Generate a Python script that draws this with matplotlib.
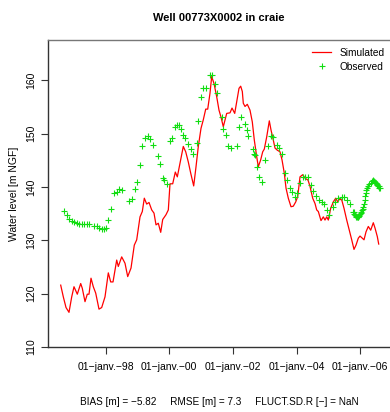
import matplotlib
matplotlib.use("Agg")
import matplotlib.pyplot as plt

plt.rcParams['font.family'] = ['Liberation Sans', 'DejaVu Sans']

# simulated heads (decimal year, m NGF)
sim_t = [1996.585, 1996.667, 1996.752, 1996.846, 1996.931, 1997.003, 1997.107, 1997.214, 1997.264,
         1997.349, 1997.421, 1997.475, 1997.538, 1997.610, 1997.686, 1997.789, 1997.874, 1997.978,
         1998.082, 1998.157, 1998.230, 1998.346, 1998.396, 1998.503, 1998.607, 1998.692, 1998.796,
         1998.899, 1998.975, 1999.079, 1999.151, 1999.214, 1999.289, 1999.362, 1999.447, 1999.519,
         1999.582, 1999.654, 1999.730, 1999.792, 1999.896, 1999.969, 2000.022, 2000.107, 2000.189,
         2000.252, 2000.336, 2000.440, 2000.516, 2000.597, 2000.673, 2000.767, 2000.840, 2000.912,
         2000.997, 2001.069, 2001.145, 2001.208, 2001.280, 2001.333, 2001.406, 2001.491, 2001.563,
         2001.626, 2001.698, 2001.805, 2001.909, 2001.972, 2002.057, 2002.138, 2002.192, 2002.245,
         2002.296, 2002.327, 2002.381, 2002.453, 2002.538, 2002.610, 2002.673, 2002.748, 2002.799,
         2002.874, 2002.937, 2002.987, 2003.063, 2003.145, 2003.198, 2003.252, 2003.324, 2003.396,
         2003.481, 2003.544, 2003.616, 2003.670, 2003.742, 2003.827, 2003.899, 2003.975, 2004.038,
         2004.110, 2004.195, 2004.277, 2004.362, 2004.425, 2004.509, 2004.582, 2004.635, 2004.686,
         2004.770, 2004.843, 2004.896, 2004.950, 2005.000, 2005.075, 2005.157, 2005.233, 2005.296,
         2005.346, 2005.421, 2005.494, 2005.579, 2005.660, 2005.736, 2005.808, 2005.871, 2005.943,
         2005.997, 2006.069, 2006.123, 2006.186, 2006.258, 2006.333, 2006.415, 2006.469, 2006.541,
         2006.585]
sim_v = [121.6, 119.4, 117.4, 116.5, 119.4, 121.3, 119.9, 121.9, 121.0,
         118.5, 119.9, 119.9, 122.9, 121.3, 120.1, 117.1, 117.4, 119.4,
         123.9, 122.2, 122.2, 126.3, 125.1, 126.9, 125.7, 123.2, 124.8,
         129.1, 130.1, 134.4, 135.4, 137.9, 136.8, 137.1, 135.7, 135.1,
         132.9, 133.2, 131.5, 133.9, 134.8, 135.7, 140.6, 140.6, 142.8,
         141.9, 144.4, 147.6, 146.6, 144.7, 142.6, 140.2, 143.8, 147.6,
         151.0, 152.6, 154.6, 154.6, 157.6, 160.7, 159.4, 156.9, 154.4,
         153.1, 151.3, 153.8, 153.9, 154.8, 153.8, 156.6, 158.5, 158.9,
         157.9, 155.7, 155.1, 155.5, 154.4, 152.2, 148.8, 145.7, 143.8,
         145.1, 146.6, 147.1, 149.4, 152.4, 150.7, 149.3, 147.3, 146.9,
         146.6, 145.1, 142.6, 139.8, 137.9, 136.3, 136.4, 137.2, 138.2,
         141.9, 142.3, 141.6, 141.3, 140.1, 137.9, 136.9, 135.7, 135.4,
         133.7, 134.4, 133.8, 134.4, 133.8, 136.0, 137.2, 137.9, 137.2,
         137.7, 137.6, 136.0, 133.8, 131.9, 130.1, 128.3, 129.1, 130.4,
         130.8, 130.4, 130.1, 131.6, 132.6, 131.9, 133.3, 132.3, 130.7,
         129.3]

# observed heads
obs_t = [1996.689, 1996.774, 1996.855, 1996.931, 1997.013, 1997.088, 1997.170, 1997.245, 1997.327,
         1997.403, 1997.484, 1997.642, 1997.717, 1997.799, 1997.874, 1997.947, 1998.009, 1998.082,
         1998.167, 1998.270, 1998.346, 1998.428, 1998.503, 1998.742, 1998.836, 1998.921, 1998.994,
         1999.079, 1999.151, 1999.245, 1999.330, 1999.403, 1999.497, 1999.635, 1999.708, 1999.811,
         1999.843, 1999.918, 2000.031, 2000.085, 2000.170, 2000.242, 2000.305, 2000.358, 2000.440,
         2000.494, 2000.579, 2000.692, 2000.755, 2000.862, 2000.912, 2001.006, 2001.069, 2001.154,
         2001.289, 2001.352, 2001.437, 2001.491, 2001.648, 2001.698, 2001.783, 2001.855, 2001.931,
         2002.119, 2002.192, 2002.245, 2002.371, 2002.434, 2002.484, 2002.623, 2002.673, 2002.704,
         2002.748, 2002.830, 2002.915, 2003.019, 2003.094, 2003.189, 2003.252, 2003.377, 2003.450,
         2003.535, 2003.648, 2003.701, 2003.786, 2003.858, 2003.962, 2004.025, 2004.110, 2004.195,
         2004.277, 2004.352, 2004.456, 2004.528, 2004.604, 2004.708, 2004.792, 2004.865, 2004.950,
         2005.031, 2005.157, 2005.220, 2005.314, 2005.421, 2005.503, 2005.579, 2005.682, 2005.786,
         2005.80, 2005.82, 2005.84, 2005.86, 2005.88, 2005.90, 2005.92, 2005.94, 2005.96, 2005.98,
         2006.00, 2006.02, 2006.04, 2006.06, 2006.08, 2006.10, 2006.12, 2006.14, 2006.16, 2006.18,
         2006.20, 2006.22, 2006.25, 2006.29, 2006.33, 2006.37, 2006.41, 2006.45, 2006.48, 2006.50,
         2006.52, 2006.54, 2006.56, 2006.58, 2006.60, 2006.62]
obs_v = [135.5, 134.8, 134.0, 133.6, 133.4, 133.2, 133.1, 133.1, 133.1,
         133.1, 133.1, 132.7, 132.6, 132.4, 132.2, 132.1, 132.3, 133.9,
         135.8, 138.9, 139.1, 139.6, 139.4, 137.4, 137.8, 139.6, 140.9,
         144.1, 147.6, 149.2, 149.6, 149.0, 147.8, 145.9, 144.4, 141.6,
         141.4, 140.5, 148.7, 149.2, 151.3, 151.6, 151.6, 150.8, 149.8,
         149.1, 148.0, 147.1, 146.1, 148.2, 152.4, 156.8, 158.5, 158.5,
         161.0, 161.0, 159.3, 157.6, 153.1, 150.8, 149.8, 147.6, 147.3,
         147.7, 151.2, 153.1, 151.9, 150.7, 149.6, 147.1, 146.1, 146.0,
         143.8, 141.9, 141.0, 145.1, 147.7, 149.6, 149.3, 147.9, 147.3,
         146.2, 142.6, 141.3, 139.9, 139.1, 138.2, 138.8, 140.7, 141.9,
         141.8, 141.8, 140.4, 139.3, 138.3, 137.6, 137.2, 136.9, 135.7,
         134.8, 136.2, 137.1, 137.9, 138.2, 138.1, 137.6, 136.9, 135.4,
         135.4, 135.0, 134.7, 134.5, 134.4, 134.3, 134.3, 134.4, 134.5, 134.7,
         134.9, 135.1, 135.3, 135.6, 135.9, 136.3, 136.9, 137.6, 138.3, 138.9,
         139.5, 139.9, 140.2, 140.5, 140.8, 141.1, 141.3, 141.2, 141.0, 140.8,
         140.6, 140.4, 140.2, 140.1, 139.9, 139.8]

tick_years = [1998, 2000, 2002, 2004, 2006]
tick_labels = ['01\u2212janv.\u221298', '01\u2212janv.\u221200', '01\u2212janv.\u221202',
               '01\u2212janv.\u221204', '01\u2212janv.\u221206']

fig = plt.figure(figsize=(3.9, 4.12), dpi=100)
ax = fig.add_axes([48.3 / 390, 65 / 412, (390 - 48.3) / 390, 307 / 412])

ax.plot(sim_t, sim_v, color='#ff0000', lw=0.9, label='Simulated')
ax.plot(obs_t, obs_v, ls='none', marker='+', color='#11dd11', ms=4.5, mew=0.8, label='Observed')

ax.set_xlim(1996.195, 2006.94)
ax.set_ylim(110, 167.56)
ax.set_xticks(tick_years)
ax.set_xticklabels(tick_labels)
ax.set_yticks([110, 120, 130, 140, 150, 160])
ax.set_yticklabels(['110', '120', '130', '140', '150', '160'], rotation=90, va='center')
ax.tick_params(labelsize=7.5, length=5, width=0.8, color='#333333')
ax.tick_params(axis='y', pad=4)
ax.tick_params(axis='x', pad=6)
for s in ax.spines.values():
    s.set_color('#333333')
    s.set_linewidth(1.0)
ax.spines['top'].set_color('#777777')
ax.spines['right'].set_visible(False)

ax.set_ylabel('Water level [m NGF]', fontsize=7.5, labelpad=5)
ax.set_title('Well 00773X0002 in craie', fontsize=8, fontweight='bold', pad=14)
ax.legend(loc='upper right', frameon=False, fontsize=7.3, handlelength=1.9,
          handletextpad=0.8, borderaxespad=0.3, labelspacing=0.35,
          bbox_to_anchor=(1.005, 0.997))

fig.text(219 / 390, 1 - 402 / 412, 'BIAS [m] = \u22125.82     RMSE [m] = 7.3     FLUCT.SD.R [\u2212] = NaN',
         ha='center', va='center', fontsize=7.2)

fig.savefig('out.png', dpi=100)
